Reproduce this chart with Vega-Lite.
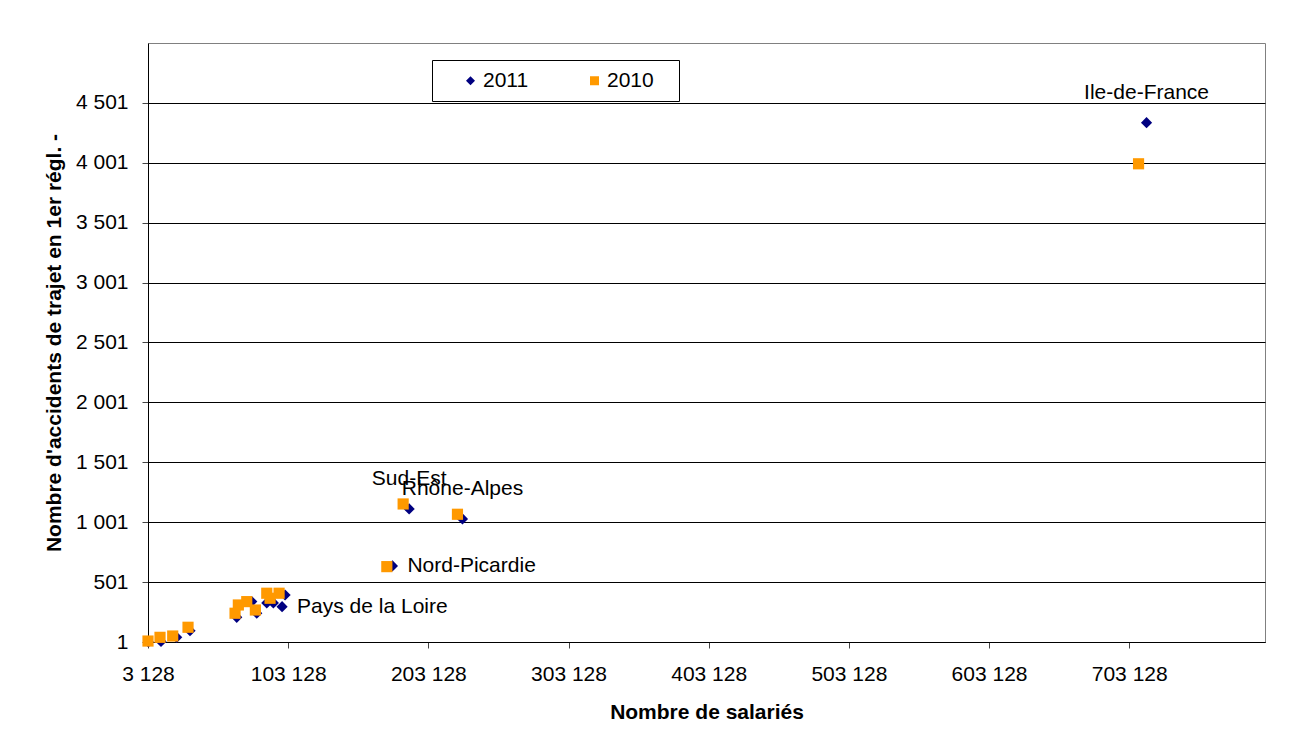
{
  "$schema": "https://vega.github.io/schema/vega-lite/v6.json",
  "autosize": "none",
  "width": 1117,
  "height": 599,
  "padding": {"left": 148, "top": 43, "right": 37, "bottom": 109},
  "background": "white",
  "config": {
    "font": "Liberation Sans",
    "view": {"stroke": "#808080", "strokeWidth": 1},
    "axis": {
      "labelFont": "Liberation Sans",
      "labelFontSize": 21,
      "labelColor": "black",
      "labelFlush": false,
      "titleFont": "Liberation Sans",
      "titleFontSize": 21,
      "titleFontWeight": "bold",
      "titleColor": "black",
      "domainColor": "black",
      "tickColor": "#444",
      "tickSize": 6,
      "gridColor": "black",
      "gridWidth": 1,
      "gridOpacity": 1
    },
    "legend": {
      "labelFont": "Liberation Sans",
      "labelFontSize": 21,
      "labelColor": "black"
    }
  },
  "data": {
    "values": [
      {"region": "Ile-de-France", "year": "2011", "salaries": 715500, "accidents": 4335},
      {"region": "Sud-Est", "year": "2011", "salaries": 189430, "accidents": 1112},
      {"region": "Rhône-Alpes", "year": "2011", "salaries": 227480, "accidents": 1028},
      {"region": "Nord-Picardie", "year": "2011", "salaries": 177510, "accidents": 636},
      {"region": "Pays de la Loire", "year": "2011", "salaries": 98780, "accidents": 296},
      {"region": "Guyane", "year": "2011", "salaries": 3400, "accidents": 1},
      {"region": "Martinique", "year": "2011", "salaries": 12410, "accidents": 5},
      {"region": "Guadeloupe", "year": "2011", "salaries": 23610, "accidents": 40},
      {"region": "Réunion", "year": "2011", "salaries": 33110, "accidents": 95},
      {"region": "Auvergne", "year": "2011", "salaries": 66440, "accidents": 207},
      {"region": "Bretagne", "year": "2011", "salaries": 77150, "accidents": 338},
      {"region": "Normandie", "year": "2011", "salaries": 80720, "accidents": 241},
      {"region": "Centre", "year": "2011", "salaries": 87860, "accidents": 327},
      {"region": "Alsace-Moselle", "year": "2011", "salaries": 92570, "accidents": 327},
      {"region": "Aquitaine", "year": "2011", "salaries": 100920, "accidents": 393},
      {"region": "Ile-de-France", "year": "2010", "salaries": 709790, "accidents": 3992},
      {"region": "Sud-Est", "year": "2010", "salaries": 185150, "accidents": 1153},
      {"region": "Rhône-Alpes", "year": "2010", "salaries": 223900, "accidents": 1067},
      {"region": "Nord-Picardie", "year": "2010", "salaries": 173510, "accidents": 630},
      {"region": "Pays de la Loire", "year": "2010", "salaries": 96640, "accidents": 408},
      {"region": "Guyane", "year": "2010", "salaries": 3128, "accidents": 9},
      {"region": "Martinique", "year": "2010", "salaries": 11694, "accidents": 40},
      {"region": "Guadeloupe", "year": "2010", "salaries": 20760, "accidents": 51},
      {"region": "Réunion", "year": "2010", "salaries": 31680, "accidents": 124},
      {"region": "Auvergne", "year": "2010", "salaries": 65230, "accidents": 241},
      {"region": "Bretagne", "year": "2010", "salaries": 67580, "accidents": 310},
      {"region": "Normandie", "year": "2010", "salaries": 73580, "accidents": 338},
      {"region": "Centre", "year": "2010", "salaries": 79720, "accidents": 268},
      {"region": "Alsace-Moselle", "year": "2010", "salaries": 87860, "accidents": 408},
      {"region": "Aquitaine", "year": "2010", "salaries": 90210, "accidents": 366}
    ]
  },
  "encoding": {
    "x": {
      "field": "salaries",
      "type": "quantitative",
      "scale": {"domain": [3128, 800000], "nice": false, "zero": false},
      "axis": {
        "title": "Nombre de salariés",
        "values": [3128, 103128, 203128, 303128, 403128, 503128, 603128, 703128],
        "labelExpr": "replace(format(datum.value, ','), ',', ' ')",
        "grid": false,
        "labelPadding": 15,
        "titlePadding": 17
      }
    },
    "y": {
      "field": "accidents",
      "type": "quantitative",
      "scale": {"domain": [1, 5000], "nice": false, "zero": false},
      "axis": {
        "title": "Nombre d'accidents de trajet en 1er régl. -",
        "values": [1, 501, 1001, 1501, 2001, 2501, 3001, 3501, 4001, 4501],
        "labelExpr": "replace(format(datum.value, ','), ',', ' ')",
        "grid": true,
        "labelPadding": 14,
        "titlePadding": 11
      }
    }
  },
  "layer": [
    {
      "mark": {"type": "point", "filled": true, "opacity": 1, "size": 125},
      "encoding": {
        "color": {
          "field": "year",
          "type": "nominal",
          "scale": {"domain": ["2011", "2010"], "range": ["#000080", "#FF9900"]},
          "legend": {
            "title": ".",
            "titleOrient": "right",
            "titleColor": "white",
            "titleFontSize": 21,
            "titlePadding": 9,
            "orient": "none",
            "direction": "horizontal",
            "legendX": 284,
            "legendY": 17,
            "strokeColor": "black",
            "fillColor": "white",
            "padding": 10,
            "symbolOffset": 18,
            "symbolSize": 81,
            "labelOffset": 2,
            "columnPadding": 37
          }
        },
        "shape": {
          "field": "year",
          "type": "nominal",
          "scale": {"domain": ["2011", "2010"], "range": ["diamond", "square"]}
        }
      }
    },
    {
      "transform": [
        {"filter": "datum.year == '2011' && (datum.region == 'Ile-de-France' || datum.region == 'Sud-Est' || datum.region == 'Rhône-Alpes')"}
      ],
      "mark": {"type": "text", "align": "center", "baseline": "middle", "dy": -30, "fontSize": 21, "color": "black", "font": "Liberation Sans"},
      "encoding": {"text": {"field": "region"}}
    },
    {
      "transform": [
        {"filter": "datum.year == '2011' && (datum.region == 'Nord-Picardie' || datum.region == 'Pays de la Loire')"}
      ],
      "mark": {"type": "text", "align": "left", "baseline": "middle", "dx": 15, "fontSize": 21, "color": "black", "font": "Liberation Sans"},
      "encoding": {"text": {"field": "region"}}
    }
  ]
}
